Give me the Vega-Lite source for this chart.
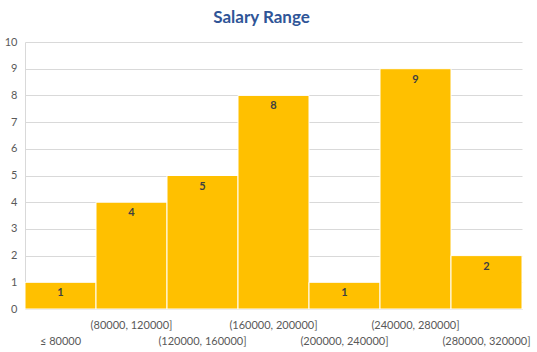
{
  "$schema": "https://vega.github.io/schema/vega-lite/v6.json",
  "width": 497,
  "height": 267,
  "autosize": {"type": "none"},
  "padding": {"left": 25, "top": 42, "right": 15, "bottom": 43},
  "background": "white",
  "title": {
    "text": "Salary Range",
    "font": "Lato",
    "fontSize": 17,
    "fontWeight": "bold",
    "color": "#2F5597",
    "anchor": "middle",
    "offset": 9,
    "dx": -12
  },
  "config": {
    "view": {"stroke": null},
    "font": "Lato"
  },
  "data": {
    "values": [
      {"bin": "≤ 80000", "count": 1},
      {"bin": "(80000, 120000]", "count": 4},
      {"bin": "(120000, 160000]", "count": 5},
      {"bin": "(160000, 200000]", "count": 8},
      {"bin": "(200000, 240000]", "count": 1},
      {"bin": "(240000, 280000]", "count": 9},
      {"bin": "(280000, 320000]", "count": 2}
    ]
  },
  "encoding": {
    "x": {
      "field": "bin",
      "type": "nominal",
      "sort": null,
      "scale": {"paddingInner": 0, "paddingOuter": 0},
      "axis": {
        "title": null,
        "labelAngle": 0,
        "labelOverlap": false,
        "labelLimit": 0,
        "labelFont": "Lato",
        "labelFontSize": 11,
        "labelColor": "#595959",
        "labelPadding": 10,
        "labelLineHeight": 16,
        "labelExpr": "indexof(['(80000, 120000]','(160000, 200000]','(240000, 280000]'], datum.label) >= 0 ? datum.label : ['', datum.label]",
        "ticks": false,
        "domain": false,
        "grid": false
      }
    },
    "y": {
      "field": "count",
      "type": "quantitative",
      "scale": {"domain": [0, 10], "nice": false},
      "axis": {
        "title": null,
        "values": [0, 1, 2, 3, 4, 5, 6, 7, 8, 9, 10],
        "labelFont": "Lato",
        "labelFontSize": 11,
        "labelColor": "#595959",
        "labelPadding": 8,
        "ticks": false,
        "domain": true,
        "domainColor": "#D9D9D9",
        "grid": true,
        "gridColor": "#D9D9D9",
        "gridWidth": 1
      }
    }
  },
  "layer": [
    {
      "mark": {"type": "bar", "color": "#FFC000", "stroke": "white", "strokeWidth": 1}
    },
    {
      "mark": {"type": "text", "baseline": "top", "dy": 5, "font": "Lato", "fontSize": 11, "fontWeight": "bold", "color": "#404040"},
      "encoding": {"text": {"field": "count", "type": "quantitative"}}
    }
  ]
}
